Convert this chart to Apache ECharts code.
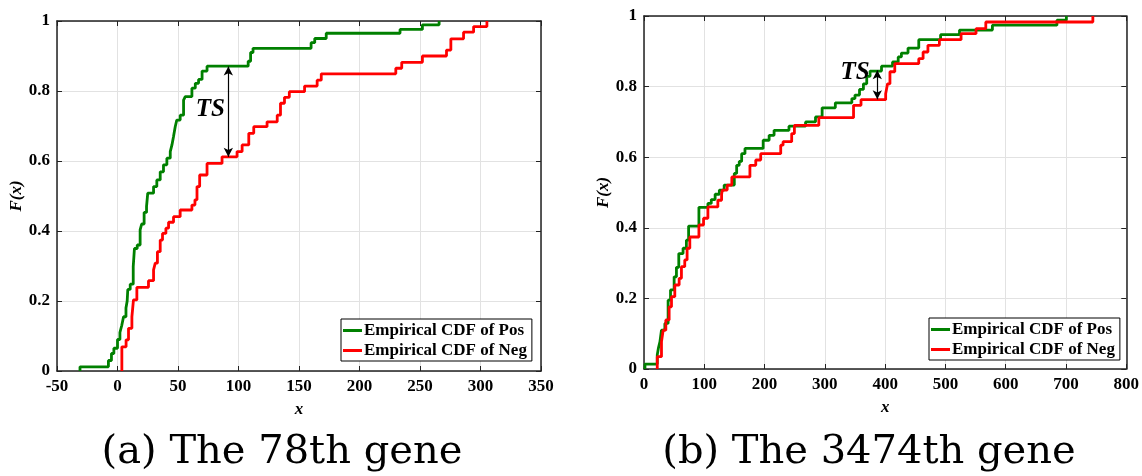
<!DOCTYPE html>
<html>
<head>
<meta charset="utf-8">
<script src="https://cdn.jsdelivr.net/npm/echarts@6/dist/echarts.min.js"></script>
<style>
  html, body { margin: 0; padding: 0; background: #fff; }
  #main { width: 1142px; height: 476px; }
</style>
</head>
<body>
<div id="main"></div>
<script>
// (a) the 78th gene
var posX_a = [-31, -31, -7.5, -5, -3, 0, 2, 3.5, 5, 7, 8, 8.5, 10.5, 13, 14, 16.3, 18.7, 20, 22, 24, 25, 29.8, 32.5, 35.3, 38, 40.8, 43.6, 45, 46.3, 47.7, 49, 51.8, 54.6, 56, 61.5, 64.3, 67, 69.9, 74, 108, 110, 112, 160, 163, 172.5, 233.5, 252, 265.8];
var posY_a = [0, 0.012, 0.03, 0.05, 0.065, 0.09, 0.11, 0.13, 0.155, 0.18, 0.2, 0.233, 0.248, 0.298, 0.35, 0.36, 0.403, 0.42, 0.453, 0.47, 0.508, 0.527, 0.546, 0.569, 0.589, 0.608, 0.627, 0.646, 0.67, 0.698, 0.717, 0.731, 0.774, 0.784, 0.808, 0.822, 0.833, 0.857, 0.871, 0.885, 0.91, 0.922, 0.938, 0.95, 0.965, 0.976, 0.989, 1];
var negX_a = [3.6, 3.6, 7.1, 9.1, 11.9, 13.2, 16, 25.6, 29.8, 31.2, 33, 35.3, 37.2, 40, 42.2, 46.3, 51.8, 61.5, 64, 65.7, 67.9, 74, 86.4, 98.8, 103, 108.5, 112.6, 123.6, 132, 134.7, 138, 142, 154.6, 165, 168.4, 230, 234.9, 252, 271.9, 275.5, 286, 294.3, 305.3];
var negY_a = [0, 0.069, 0.089, 0.122, 0.155, 0.203, 0.239, 0.258, 0.289, 0.308, 0.341, 0.374, 0.393, 0.408, 0.425, 0.441, 0.46, 0.474, 0.489, 0.527, 0.56, 0.593, 0.612, 0.627, 0.646, 0.679, 0.698, 0.712, 0.731, 0.765, 0.782, 0.798, 0.814, 0.831, 0.849, 0.865, 0.882, 0.9, 0.917, 0.949, 0.968, 0.984, 1];

// (b) the 3474th gene
var posX_b = [1.6, 1.6, 22, 24, 26.4, 29, 34.6, 40, 44, 50, 53.8, 57.7, 64.8, 70.3, 74, 91.1, 106, 111.6, 118, 125, 133, 149.8, 153.7, 158, 162, 167.5, 197.7, 207.6, 215.8, 240.5, 268, 284.5, 295.5, 317.4, 344.8, 350, 357.5, 364, 369.5, 375, 394, 412.3, 421.7, 427, 438, 455.8, 492, 523.4, 578, 685, 700.7];
var posY_b = [0, 0.014, 0.04, 0.06, 0.077, 0.11, 0.129, 0.195, 0.224, 0.261, 0.288, 0.327, 0.342, 0.365, 0.405, 0.458, 0.469, 0.48, 0.495, 0.507, 0.521, 0.554, 0.577, 0.588, 0.61, 0.625, 0.648, 0.662, 0.676, 0.688, 0.7, 0.714, 0.74, 0.754, 0.766, 0.776, 0.792, 0.808, 0.829, 0.844, 0.858, 0.87, 0.884, 0.895, 0.909, 0.933, 0.947, 0.96, 0.974, 0.988, 1];
var negX_b = [22, 22, 29, 31.8, 36.2, 41.7, 45.6, 51.1, 58.3, 62.1, 67.6, 71.5, 76, 91.1, 98.8, 106, 122.5, 128.7, 130, 138, 145.7, 175.7, 185.4, 193.6, 226.8, 230.7, 245, 249.5, 290, 347.6, 360, 400.9, 404, 408, 416, 455.8, 463, 471, 490, 526, 550.8, 567, 744.6];
var negY_b = [0, 0.035, 0.077, 0.11, 0.139, 0.176, 0.205, 0.238, 0.257, 0.29, 0.309, 0.342, 0.374, 0.408, 0.427, 0.459, 0.478, 0.495, 0.507, 0.521, 0.544, 0.577, 0.592, 0.61, 0.634, 0.644, 0.667, 0.69, 0.712, 0.747, 0.763, 0.78, 0.808, 0.842, 0.865, 0.879, 0.898, 0.917, 0.933, 0.95, 0.964, 0.983, 1];

// TS annotations: [x, yLow, yHigh] for arrow, [x, y] for text
var tsArrow_a = [91.6, 0.612, 0.87];
var tsText_a = [76.7, 0.746];
var tsArrow_b = [387, 0.764, 0.846];
var tsText_b = [350, 0.841];

var captions = ['(a) The 78th gene', '(b) The 3474th gene'];
var posName = 'Empirical CDF of Pos';
var negName = 'Empirical CDF of Neg';

var serif = 'Liberation Serif';
var GREEN = '#008000';
var RED = '#ff0000';

function zip(xs, ys) {
  return xs.map(function (x, i) { return [x, ys[i]]; });
}

function mainX(grid, min, max, interval) {
  return {
    type: 'value', gridIndex: grid, min: min, max: max, interval: interval,
    name: 'x', nameLocation: 'middle', nameGap: 30,
    nameTextStyle: { fontFamily: serif, fontWeight: 'bold', fontStyle: 'italic', fontSize: 17, color: '#000' },
    axisLine: { show: true, onZero: false, lineStyle: { color: '#222', width: 1.5 } },
    axisTick: { show: true, inside: true, length: 5, lineStyle: { color: '#222' } },
    axisLabel: { fontFamily: serif, fontWeight: 'bold', fontSize: 17, color: '#000', margin: 7 },
    splitLine: { show: true, lineStyle: { color: '#e2e2e2', width: 1 } }
  };
}
function mainY(grid) {
  return {
    type: 'value', gridIndex: grid, min: 0, max: 1, interval: 0.2,
    name: 'F(x)', nameLocation: 'middle', nameGap: 31, nameRotate: 90,
    nameTextStyle: { fontFamily: serif, fontWeight: 'bold', fontStyle: 'italic', fontSize: 17, color: '#000' },
    axisLine: { show: true, onZero: false, lineStyle: { color: '#222', width: 1.5 } },
    axisTick: { show: true, inside: true, length: 5, lineStyle: { color: '#222' } },
    axisLabel: { fontFamily: serif, fontWeight: 'bold', fontSize: 17, color: '#000', margin: 7 },
    splitLine: { show: true, lineStyle: { color: '#e2e2e2', width: 1 } }
  };
}
function boxX(grid, min, max, interval) {
  return {
    type: 'value', gridIndex: grid, min: min, max: max, interval: interval, position: 'top',
    axisLine: { show: true, onZero: false, lineStyle: { color: '#222', width: 1.5 } },
    axisTick: { show: true, inside: true, length: 5, lineStyle: { color: '#222' } },
    axisLabel: { show: false }, splitLine: { show: false }
  };
}
function boxY(grid) {
  return {
    type: 'value', gridIndex: grid, min: 0, max: 1, interval: 0.2, position: 'right',
    axisLine: { show: true, onZero: false, lineStyle: { color: '#222', width: 1.5 } },
    axisTick: { show: true, inside: true, length: 5, lineStyle: { color: '#222' } },
    axisLabel: { show: false }, splitLine: { show: false }
  };
}

function stepSeries(name, color, xs, ys, axis, arrow, text) {
  var s = {
    name: name, type: 'line', step: 'end', xAxisIndex: axis, yAxisIndex: axis,
    data: zip(xs, ys), showSymbol: false, symbol: 'none',
    lineStyle: { color: color, width: 2.8 }, itemStyle: { color: color },
    silent: true, z: 3
  };
  if (arrow) {
    s.markLine = {
      silent: true, symbol: ['arrow', 'arrow'], symbolSize: [7, 9],
      label: { show: false },
      lineStyle: { color: '#000', width: 1.2, type: 'solid' },
      data: [[{ coord: [arrow[0], arrow[1]] }, { coord: [arrow[0], arrow[2]] }]]
    };
    s.markPoint = {
      silent: true, symbol: 'circle', symbolSize: 1,
      itemStyle: { color: 'rgba(0,0,0,0)' },
      label: {
        show: true, position: 'inside', formatter: 'TS', color: '#000',
        fontFamily: serif, fontWeight: 'bold', fontStyle: 'italic', fontSize: 25
      },
      data: [{ coord: text }]
    };
  }
  return s;
}

function legendAt(left, top) {
  return {
    left: left, top: top, orient: 'vertical',
    data: [posName, negName],
    icon: 'rect', itemWidth: 19, itemHeight: 3, itemGap: 3,
    padding: [3, 5, 2, 2],
    backgroundColor: '#fff', borderColor: '#000', borderWidth: 1, borderRadius: 0,
    textStyle: { fontFamily: serif, fontWeight: 'bold', fontSize: 17, color: '#000', padding: [0, 0, 0, -3] },
    selectedMode: false
  };
}

var chart = echarts.init(document.getElementById('main'), null, { renderer: 'canvas' });
chart.setOption({
  animation: false,
  backgroundColor: '#fff',
  grid: [
    { left: 57, top: 21, width: 484, height: 350 },
    { left: 644, top: 16, width: 485, height: 353 }
  ],
  xAxis: [mainX(0, -50, 350, 50), mainX(1, 0, 800, 100), boxX(0, -50, 350, 50), boxX(1, 0, 800, 100)],
  yAxis: [mainY(0), mainY(1), boxY(0), boxY(1)],
  legend: [legendAt(341, 319), legendAt(929, 318)],
  series: [
    stepSeries(posName, GREEN, posX_a, posY_a, 0, tsArrow_a, tsText_a),
    stepSeries(negName, RED, negX_a, negY_a, 0),
    stepSeries(posName, GREEN, posX_b, posY_b, 1, tsArrow_b, tsText_b),
    stepSeries(negName, RED, negX_b, negY_b, 1)
  ],
  graphic: [
    { type: 'text', x: 282, y: 453, style: { text: captions[0], font: '40px "DejaVu Serif"', fill: '#000', align: 'center', verticalAlign: 'middle' } },
    { type: 'text', x: 869, y: 453, style: { text: captions[1], font: '40px "DejaVu Serif"', fill: '#000', align: 'center', verticalAlign: 'middle' } }
  ]
});
</script>
</body>
</html>
